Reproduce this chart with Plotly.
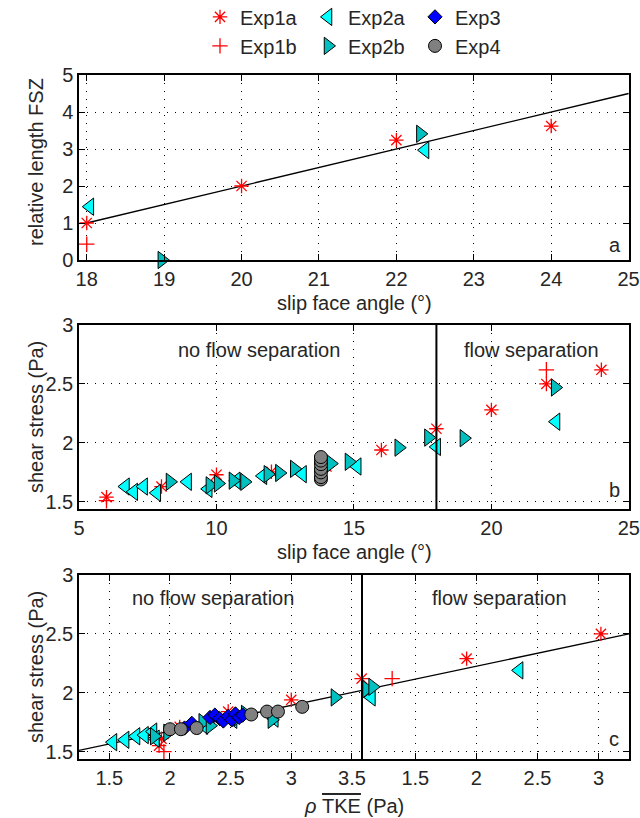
import plotly.graph_objects as go

# ---------------- data ----------------
# Panel a: relative length FSZ vs slip face angle (deg)
a_exp1a_x = [18, 20, 22, 24]
a_exp1a_y = [1.0, 2.0, 3.24, 3.62]
a_exp1b_x = [18]
a_exp1b_y = [0.43]
a_exp2a_x = [18.04, 22.37]
a_exp2a_y = [1.44, 2.97]
a_exp2b_x = [18.97, 22.31]
a_exp2b_y = [0.0, 3.41]
a_fit_x = [18, 25]
a_fit_y = [1.0, 4.5]

# Panel b: shear stress (Pa) vs slip face angle (deg)
b_exp1a_x = [6, 8, 10, 12, 14, 16, 18, 20, 22, 24]
b_exp1a_y = [1.54, 1.63, 1.73, 1.755, 1.80, 1.94, 2.12, 2.28, 2.50, 2.62]
b_exp1b_x = [6, 22]
b_exp1b_y = [1.51, 2.62]
b_exp2a_x = [6.69, 6.99, 7.35, 7.83, 8.95, 9.70, 10.72, 11.69, 13.13, 15.12, 18.01, 22.35]
b_exp2a_y = [1.63, 1.585, 1.63, 1.576, 1.67, 1.61, 1.68, 1.72, 1.735, 1.80, 1.966, 2.18]
b_exp2b_x = [8.31, 9.76, 10.06, 10.60, 11.02, 11.87, 12.29, 12.83, 14.16, 14.82, 16.63, 17.71, 19.0, 22.32]
b_exp2b_y = [1.67, 1.64, 1.656, 1.68, 1.67, 1.735, 1.745, 1.78, 1.825, 1.84, 1.96, 2.045, 2.04, 2.47]
b_exp4_x = [13.8, 13.8, 13.8, 13.8, 13.8, 13.8, 13.8]
b_exp4_y = [1.69, 1.71, 1.75, 1.78, 1.82, 1.85, 1.88]
b_separation_angle = 18

# Panel c: shear stress (Pa) vs rho*TKE (Pa); left = no flow separation, right = flow separation
c_exp1a_x = [1.91, 1.93, 2.08, 2.30, 2.48, 3.00, 3.58]
c_exp1a_y = [1.55, 1.61, 1.71, 1.75, 1.84, 1.94, 2.12]
c_exp1a_x_sep = [1.92, 3.02]
c_exp1a_y_sep = [2.29, 2.50]
c_exp1b_x = [1.95]
c_exp1b_y = [1.50]
c_exp1b_x_sep = [1.31]
c_exp1b_y_sep = [2.12]
c_exp2a_x = [1.53, 1.63, 1.72, 1.79, 1.86, 1.88, 2.28, 2.52, 2.86]
c_exp2a_y = [1.58, 1.60, 1.63, 1.64, 1.67, 1.61, 1.72, 1.77, 1.78]
c_exp2a_x_sep = [1.14, 2.35]
c_exp2a_y_sep = [1.96, 2.19]
c_exp2b_x = [1.87, 1.98, 2.27, 2.33, 2.56, 2.62, 2.84, 3.36]
c_exp2b_y = [1.63, 1.66, 1.75, 1.72, 1.79, 1.82, 1.77, 1.96]
c_exp2b_x_sep = [1.10, 1.15]
c_exp2b_y_sep = [2.03, 2.05]
c_exp3_x = [2.12, 2.18, 2.33, 2.37, 2.41, 2.44, 2.48, 2.51, 2.54, 2.57, 2.60]
c_exp3_y = [1.70, 1.74, 1.79, 1.81, 1.78, 1.76, 1.80, 1.77, 1.82, 1.79, 1.81]
c_exp4_x = [2.00, 2.09, 2.22, 2.67, 2.80, 2.89, 3.09]
c_exp4_y = [1.69, 1.69, 1.70, 1.815, 1.84, 1.84, 1.88]
c_fit_x = [1.25, 3.583]
c_fit_y = [1.51, 2.02]
c_fit_x_sep = [1.063, 3.25]
c_fit_y_sep = [2.02, 2.50]

# ---------------- styles ----------------
FONT = "Liberation Sans, Arial, sans-serif"
TXT = "#262626"
FS = 20

STY = {
    "Exp1a": dict(symbol="asterisk-open", size=12, color="red", line=dict(color="red", width=1.3)),
    "Exp1b": dict(symbol="cross-thin-open", size=11, color="red", line=dict(color="red", width=1.3)),
    "Exp2a": dict(symbol="triangle-left", size=15, color="#00FFFF", line=dict(color="black", width=1)),
    "Exp2b": dict(symbol="triangle-right", size=15, color="#00BFBF", line=dict(color="black", width=1)),
    "Exp3": dict(symbol="diamond", size=11, color="#0000FF", line=dict(color="black", width=1)),
    "Exp4": dict(symbol="circle", size=13, color="#808080", line=dict(color="black", width=1)),
}
LEG = {"Exp1a": "legend", "Exp1b": "legend", "Exp2a": "legend2", "Exp2b": "legend2",
       "Exp3": "legend3", "Exp4": "legend3"}

fig = go.Figure()


def pts(name, x, y, xa, ya, show=False):
    fig.add_trace(go.Scatter(x=x, y=y, mode="markers", name=name, marker=STY[name],
                             xaxis=xa, yaxis=ya, showlegend=show, legend=LEG[name],
                             cliponaxis=False, hoverinfo="skip"))


def fit(x, y, xa, ya):
    fig.add_trace(go.Scatter(x=x, y=y, mode="lines", line=dict(color="black", width=1.3),
                             xaxis=xa, yaxis=ya, showlegend=False, hoverinfo="skip"))


# panel a
fit(a_fit_x, a_fit_y, "x", "y")
pts("Exp1a", a_exp1a_x, a_exp1a_y, "x", "y")
pts("Exp1b", a_exp1b_x, a_exp1b_y, "x", "y")
pts("Exp2a", a_exp2a_x, a_exp2a_y, "x", "y")
pts("Exp2b", a_exp2b_x, a_exp2b_y, "x", "y")

# panel b
pts("Exp1a", b_exp1a_x, b_exp1a_y, "x2", "y2")
pts("Exp1b", b_exp1b_x, b_exp1b_y, "x2", "y2")
pts("Exp2a", b_exp2a_x, b_exp2a_y, "x2", "y2")
pts("Exp2b", b_exp2b_x, b_exp2b_y, "x2", "y2")
pts("Exp4", b_exp4_x, b_exp4_y, "x2", "y2")

# panel c
fit(c_fit_x, c_fit_y, "x3", "y3")
fit(c_fit_x_sep, c_fit_y_sep, "x4", "y4")
pts("Exp1a", c_exp1a_x, c_exp1a_y, "x3", "y3", True)
pts("Exp1b", c_exp1b_x, c_exp1b_y, "x3", "y3", True)
pts("Exp2a", c_exp2a_x, c_exp2a_y, "x3", "y3", True)
pts("Exp2b", c_exp2b_x, c_exp2b_y, "x3", "y3", True)
pts("Exp3", c_exp3_x, c_exp3_y, "x3", "y3", True)
pts("Exp4", c_exp4_x, c_exp4_y, "x3", "y3", True)
pts("Exp1a", c_exp1a_x_sep, c_exp1a_y_sep, "x4", "y4")
pts("Exp1b", c_exp1b_x_sep, c_exp1b_y_sep, "x4", "y4")
pts("Exp2a", c_exp2a_x_sep, c_exp2a_y_sep, "x4", "y4")
pts("Exp2b", c_exp2b_x_sep, c_exp2b_y_sep, "x4", "y4")

# ---------------- layout ----------------
H = 818.0


def py(p):
    return 1 - p / H


GRID = dict(showgrid=True, gridcolor="black", gridwidth=1, griddash="1px,7px",
            zeroline=False, showline=True, linecolor="black", linewidth=1.5,
            mirror="ticks", ticks="inside", ticklen=6, tickcolor="black",
            tickfont=dict(family=FONT, size=FS, color=TXT))

dom_a = [py(260), py(75)]
dom_b = [py(509.3), py(325)]
dom_c = [py(759), py(575)]
split = 283.0 / 550.0

fig.update_layout(
    width=640, height=818,
    margin=dict(l=79, r=11, t=0, b=0, autoexpand=False),
    plot_bgcolor="white", paper_bgcolor="white",
    font=dict(family=FONT, size=FS, color=TXT),
    xaxis=dict(GRID, domain=[0, 1], anchor="y", range=[17.9, 25.005],
               tickvals=[18, 19, 20, 21, 22, 23, 24, 25], ticklabelstandoff=0),
    yaxis=dict(GRID, domain=dom_a, anchor="x", range=[0, 5], tickvals=[0, 1, 2, 3, 4, 5],
               ticklabelstandoff=0),
    xaxis2=dict(GRID, domain=[0, 1], anchor="y2", range=[5, 25.005], tickvals=[5, 10, 15, 20, 25],
                ticklabelstandoff=0),
    yaxis2=dict(GRID, domain=dom_b, anchor="x2", range=[1.437, 3], tickvals=[1.5, 2, 2.5, 3],
                ticklabelstandoff=0),
    xaxis3=dict(GRID, domain=[0, split], anchor="y3", range=[1.25, 3.583],
                tickvals=[1.5, 2, 2.5, 3, 3.5], ticklabelstandoff=0),
    yaxis3=dict(GRID, domain=dom_c, anchor="x3", range=[1.437, 3], tickvals=[1.5, 2, 2.5, 3],
                ticklabelstandoff=0, mirror=False),
    xaxis4=dict(GRID, domain=[split, 1], anchor="y4", range=[1.063, 3.25],
                tickvals=[1.5, 2, 2.5, 3], ticklabelstandoff=0),
    yaxis4=dict(GRID, domain=dom_c, anchor="x4", range=[1.437, 3], tickvals=[1.5, 2, 2.5, 3],
                side="right", showticklabels=False, mirror=False),
)

leg_common = dict(y=1.0032, yanchor="top", xanchor="left", bgcolor="rgba(0,0,0,0)",
                  font=dict(family=FONT, size=FS, color=TXT), itemwidth=30, tracegroupgap=0)
fig.update_layout(
    legend=dict(leg_common, x=(200 - 79) / 550),
    legend2=dict(leg_common, x=(308 - 79) / 550),
    legend3=dict(leg_common, x=(415 - 79) / 550),
)

# flow-separation dividers
fig.add_shape(type="line", xref="x2", yref="y2 domain", x0=b_separation_angle, x1=b_separation_angle,
              y0=0, y1=1, line=dict(color="black", width=2))
fig.add_shape(type="line", xref="paper", yref="paper", x0=split, x1=split, y0=dom_c[0], y1=dom_c[1],
              line=dict(color="black", width=2))

ann = []


def text(t, x, y, xref="paper", yref="paper", angle=0, size=FS):
    ann.append(dict(text=t, x=x, y=y, xref=xref, yref=yref, showarrow=False, textangle=angle,
                    xanchor="center", yanchor="middle", font=dict(family=FONT, size=size, color=TXT)))


# axis titles
text("slip face angle (°)", 0.5, py(303))
text("slip face angle (°)", 0.5, py(552))
text('<i>ρ</i> <span style="text-decoration:overline">TKE</span> (Pa)', 0.5, py(806))
text("relative length FSZ", (36 - 79) / 550, py(162), angle=-90)
text("shear stress (Pa)", (36 - 79) / 550, py(417), angle=-90)
text("shear stress (Pa)", (36 - 79) / 550, py(667), angle=-90)
# region labels
text("no flow separation", 11.54, 2.79, "x2", "y2")
text("flow separation", 21.46, 2.79, "x2", "y2")
text("no flow separation", 2.355, 2.806, "x3", "y3")
text("flow separation", 2.19, 2.806, "x4", "y4")
# panel letters
text("a", (614.5 - 79) / 550, py(245.5))
text("b", (614 - 79) / 550, py(490))
text("c", (614 - 79) / 550, py(739))
fig.update_layout(annotations=ann)

fig.write_html("out.html")
